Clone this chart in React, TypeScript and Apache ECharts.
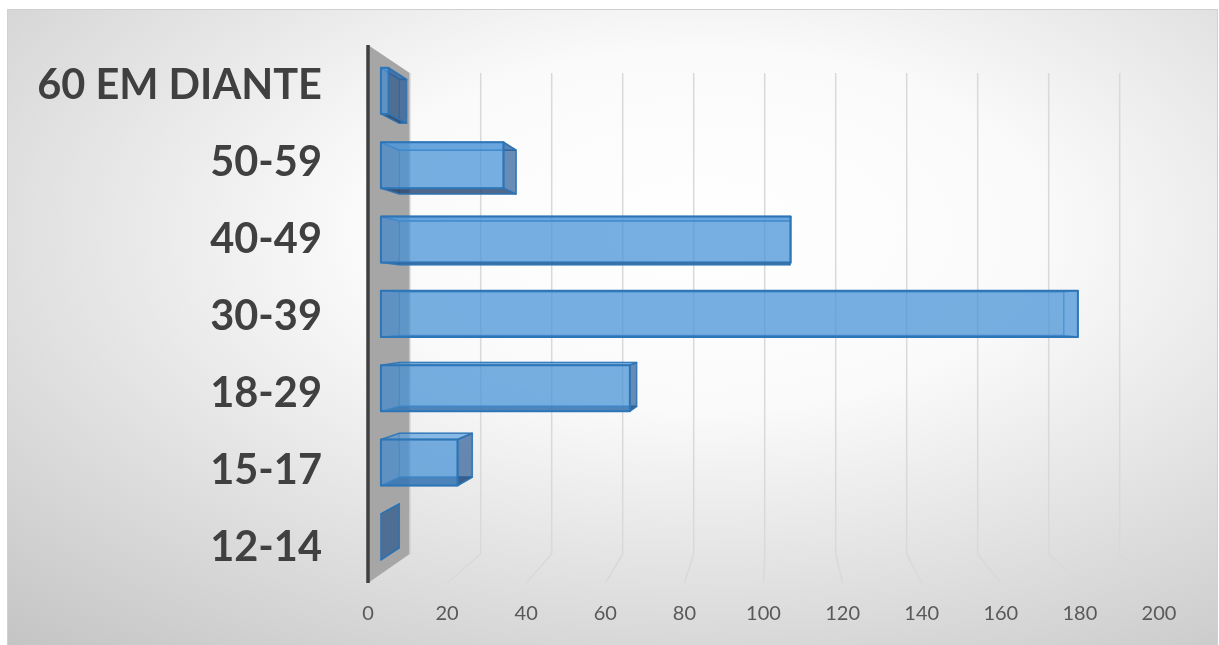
import React, { useEffect, useRef } from "react";
import * as echarts from "echarts";

// ---- data ----
const categories = ["12-14", "15-17", "18-29", "30-39", "40-49", "50-59", "60 EM DIANTE"];
const counts = [0, 20, 65, 182, 107, 32, 2];
const xTicks = [0, 20, 40, 60, 80, 100, 120, 140, 160, 180, 200];

// ---- geometry / style ----
const PAGE_W = 1219;
const PAGE_H = 645;
const GRID = { left: 368, top: 45, width: 791, height: 538 };
const BACK_INSET = { l: 41.7, r: 39.3, t: 28, b: 29 };
const T_FRONT = 0.31;
const T_BACK = 0.75;
const BAR_HALF = 0.31;

function makeProj(cs: any) {
  const bx = cs.x + BACK_INSET.l;
  const by = cs.y + BACK_INSET.t;
  const bw = cs.width - BACK_INSET.l - BACK_INSET.r;
  const bh = cs.height - BACK_INSET.t - BACK_INSET.b;
  return (xf: number, yf: number, t: number) => {
    const u = (xf - cs.x) / cs.width;
    const w = (yf - cs.y) / cs.height;
    const xb = bx + u * bw;
    const yb = by + w * bh;
    return [xf + t * (xb - xf), yf + t * (yb - yf)];
  };
}

const EDGE = "rgba(46,117,182,0.85)";

export default function App() {
  const ref = useRef<HTMLDivElement>(null);
  useEffect(() => {
    if (!ref.current) return;
    const chart = echarts.init(ref.current, null, { renderer: "svg" });
    const sx = 850 / 600;
    const localW = 1210 / sx;
    const option: any = {
      animation: false,
      graphic: [
        {
          type: "rect",
          silent: true,
          z: -10,
          x: 7,
          y: 9,
          scaleX: sx,
          shape: { x: 0, y: 0, width: localW, height: 636 },
          style: {
            fill: new echarts.graphic.RadialGradient(
              (700 - 7) / sx / localW,
              (230 - 9) / 636,
              600 / 636,
              [
                { offset: 0, color: "#ffffff" },
                { offset: 0.3, color: "#fafafa" },
                { offset: 1, color: "#bdbdbd" },
              ]
            ),
          },
        },
        {
          type: "rect",
          silent: true,
          z: -9,
          shape: { x: 7.5, y: 9.5, width: 1210, height: 640 },
          style: { fill: null, stroke: "#d0d0d0", lineWidth: 1 },
        },
      ],
      grid: { left: GRID.left, top: GRID.top, width: GRID.width, height: GRID.height },
      xAxis: {
        type: "value",
        min: 0,
        max: 200,
        interval: 20,
        axisLine: { show: false },
        axisTick: { show: false },
        splitLine: { show: false },
        axisLabel: {
          color: "#595959",
          fontSize: 20,
          fontFamily: "Lato",
          margin: 19,
          formatter: (v: number) => (xTicks.includes(v) ? String(v) : ""),
        },
      },
      yAxis: {
        type: "category",
        data: categories,
        axisLine: { show: false },
        axisTick: { show: false },
        splitLine: { show: false },
        axisLabel: {
          color: "#404040",
          fontSize: 41.5,
          fontWeight: "bold",
          fontFamily: "Lato",
          margin: 46,
          padding: [5, 0, 0, 0],
        },
      },
      series: [
        {
          type: "custom",
          name: "grid3d",
          z: 1,
          silent: true,
          data: xTicks.map((v) => [v, 0]),
          renderItem: (params: any, api: any) => {
            const cs = params.coordSys;
            const P = makeProj(cs);
            const v = api.value(0);
            const xf = api.coord([v, 0])[0];
            const top = P(xf, cs.y, 1);
            const bot = P(xf, cs.y + cs.height, 1);
            const front = [xf, cs.y + cs.height];
            if (v === 0) {
              const wall = [
                [cs.x, cs.y],
                P(cs.x, cs.y, 1),
                P(cs.x, cs.y + cs.height, 1),
                [cs.x, cs.y + cs.height],
              ];
              return {
                type: "group",
                children: [
                  { type: "polygon", shape: { points: wall }, style: { fill: "#a6a6a6" } },
                  {
                    type: "line",
                    shape: { x1: top[0], y1: top[1], x2: bot[0], y2: bot[1] },
                    style: { stroke: "#c8c8c8", lineWidth: 1.5 },
                  },
                  {
                    type: "line",
                    shape: { x1: cs.x, y1: cs.y, x2: cs.x, y2: cs.y + cs.height },
                    style: { stroke: "#3f3f3f", lineWidth: 3.5 },
                  },
                ],
              };
            }
            return {
              type: "polyline",
              shape: { points: [top, bot, front] },
              style: { stroke: "#d9d9d9", lineWidth: 1.5, fill: null },
            };
          },
        },
        {
          type: "custom",
          name: "bars",
          z: 3,
          data: counts.map((v, i) => [v, i]),
          renderItem: (params: any, api: any) => {
            const cs = params.coordSys;
            const P = makeProj(cs);
            const v = api.value(0);
            const c = api.value(1);
            const p0 = api.coord([0, c]);
            const p1 = api.coord([v, c]);
            const band = api.size([0, 1])[1];
            const yT = p0[1] - band * BAR_HALF;
            const yB = p0[1] + band * BAR_HALF;
            const x0 = p0[0];
            const x1 = p1[0];
            const F = (x: number, y: number) => P(x, y, T_FRONT);
            const B = (x: number, y: number) => P(x, y, T_BACK);
            const poly = (pts: number[][], fill: string, stroke: string, lw: number) => ({
              type: "polygon",
              shape: { points: pts },
              style: { fill, stroke, lineWidth: lw, lineJoin: "round" },
            });
            const children: any[] = [];
            // back face
            children.push(
              poly([B(x0, yT), B(x1, yT), B(x1, yB), B(x0, yB)], "rgba(70,145,215,0.28)", "rgba(46,117,182,0.45)", 1.2)
            );
            // left face
            children.push(
              poly([F(x0, yT), B(x0, yT), B(x0, yB), F(x0, yB)], "rgba(40,85,140,0.22)", "rgba(46,117,182,0.4)", 1)
            );
            // bottom face
            children.push(
              poly([F(x0, yB), F(x1, yB), B(x1, yB), B(x0, yB)], "rgba(25,55,95,0.7)", EDGE, 1.5)
            );
            // top face
            children.push(
              poly([F(x0, yT), F(x1, yT), B(x1, yT), B(x0, yT)], "rgba(90,160,225,0.55)", EDGE, 1.5)
            );
            // right face: dark when it faces the viewer, light when seen through the front
            const rightVisible = B(x1, yT)[0] > F(x1, yT)[0];
            children.push(
              poly(
                [F(x1, yT), B(x1, yT), B(x1, yB), F(x1, yB)],
                rightVisible ? "rgba(40,85,140,0.6)" : "rgba(110,175,235,0.35)",
                rightVisible ? EDGE : "rgba(46,117,182,0.5)",
                rightVisible ? 1.5 : 1.2
              )
            );
            // front face
            if (x1 - x0 > 0.5) {
              children.push(
                poly([F(x0, yT), F(x1, yT), F(x1, yB), F(x0, yB)], "rgba(70,145,215,0.62)", "#2e75b6", 2)
              );
            }
            return { type: "group", children };
          },
        },
      ],
    };
    chart.setOption(option);
    return () => chart.dispose();
  }, []);
  return (
    <div
      ref={ref}
      style={{ position: "fixed", left: 0, top: 0, width: PAGE_W, height: PAGE_H }}
    />
  );
}
